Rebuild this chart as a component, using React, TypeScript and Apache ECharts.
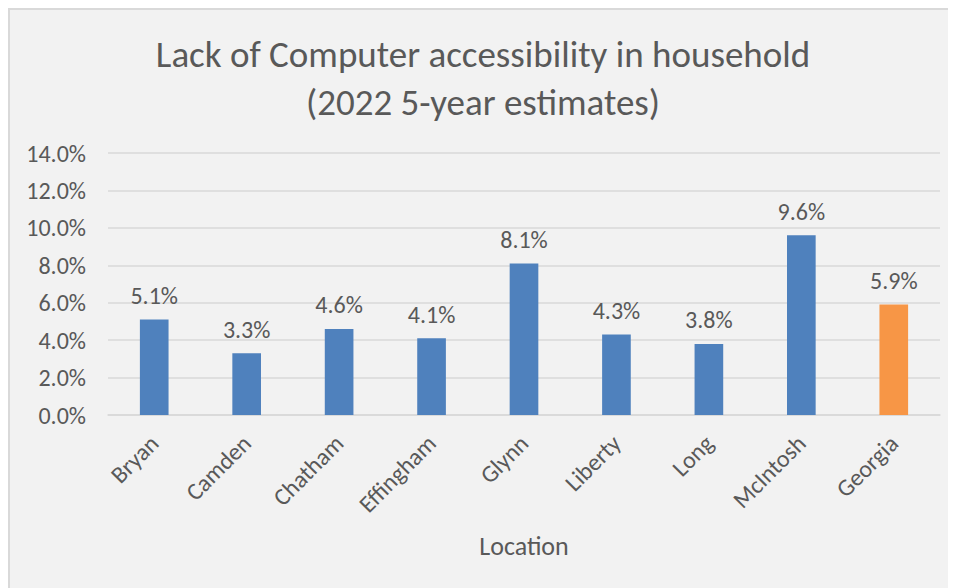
import React, { useEffect, useRef } from "react";
import * as echarts from "echarts";

const categories = ["Bryan", "Camden", "Chatham", "Effingham", "Glynn", "Liberty", "Long", "McIntosh", "Georgia"];
const values = [5.1, 3.3, 4.6, 4.1, 8.1, 4.3, 3.8, 9.6, 5.9];
const highlightCategory = "Georgia";
const titleLines = ["Lack of Computer accessibility in household", "(2022 5-year estimates)"];
const xAxisTitle = "Location";

const FONT = "Carlito, 'Open Sans', sans-serif";
const TEXT = "#595959";
const BLUE = "#4f81bd";
const ORANGE = "#f79646";
const GRID = "#d9d9d9";

export default function App() {
  const ref = useRef<HTMLDivElement>(null);
  useEffect(() => {
    if (!ref.current) return;
    const chart = echarts.init(ref.current, undefined, { renderer: "svg" });
    chart.setOption({
      animation: false,
      backgroundColor: "#f2f2f2",
      textStyle: { fontFamily: FONT, color: TEXT },
      title: {
        text: titleLines.join("\n"),
        left: "center",
        top: 15,
        textStyle: { fontFamily: FONT, color: TEXT, fontSize: 37, fontWeight: "normal", lineHeight: 48 },
      },
      grid: { left: 98, right: 16, top: 143, bottom: 173 },
      xAxis: {
        type: "category",
        data: categories,
        name: xAxisTitle,
        nameLocation: "middle",
        nameGap: 118,
        nameTextStyle: { fontFamily: FONT, color: TEXT, fontSize: 26 },
        axisLine: { show: true, lineStyle: { color: GRID, width: 1.5 } },
        axisTick: { show: false },
        axisLabel: { rotate: 45, margin: 24, fontSize: 24, color: TEXT, fontFamily: FONT, interval: 0 },
      },
      yAxis: {
        type: "value",
        min: 0,
        max: 14,
        interval: 2,
        axisLine: { show: false },
        axisTick: { show: false },
        splitLine: { lineStyle: { color: GRID, width: 1.5 } },
        axisLabel: {
          margin: 22,
          fontSize: 24,
          color: TEXT,
          fontFamily: FONT,
          formatter: (v: number) => v.toFixed(1) + "%",
        },
      },
      series: [
        {
          type: "bar",
          barWidth: "31%",
          data: categories.map((c, i) => ({
            value: values[i],
            itemStyle: { color: c === highlightCategory ? ORANGE : BLUE },
          })),
          label: {
            show: true,
            position: "top",
            distance: 12,
            fontSize: 24,
            color: TEXT,
            fontFamily: FONT,
            formatter: (p: any) => Number(p.value).toFixed(1) + "%",
          },
        },
      ],
    });
    return () => chart.dispose();
  }, []);
  return (
    <div
      style={{
        width: 948,
        height: 580,
        boxSizing: "border-box",
        borderTop: "2px solid #d9d9d9",
        borderLeft: "2px solid #d9d9d9",
        background: "#f2f2f2",
        overflow: "hidden",
      }}
    >
      <div ref={ref} style={{ width: 946, height: 578 }} />
    </div>
  );
}
